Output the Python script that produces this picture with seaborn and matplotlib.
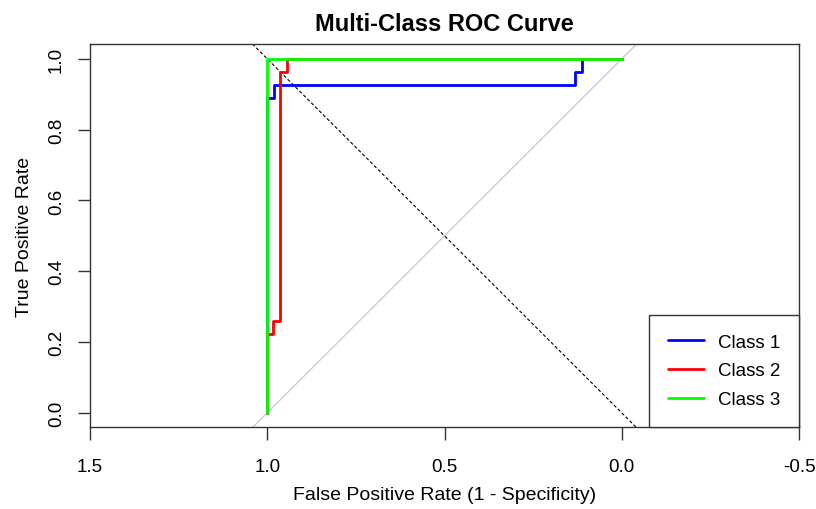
import numpy as np
import pandas as pd
import matplotlib
matplotlib.use("Agg")
import matplotlib.pyplot as plt
import seaborn as sns

# ROC points (specificity, sensitivity) per class
class1_spec = [1.0, 1.0, 0.981, 0.981, 0.133, 0.133, 0.113, 0.113, 0.0]
class1_sens = [0.0, 0.889, 0.889, 0.926, 0.926, 0.963, 0.963, 1.0, 1.0]

class2_spec = [1.0, 1.0, 0.983, 0.983, 0.963, 0.963, 0.944, 0.944, 0.0]
class2_sens = [0.0, 0.222, 0.222, 0.259, 0.259, 0.963, 0.963, 1.0, 1.0]

class3_spec = [1.0, 1.0, 0.0]
class3_sens = [0.0, 1.0, 1.0]

class_names = ["Class 1", "Class 2", "Class 3"]
class_colors = ["#0000FF", "#FF0000", "#00FF00"]

x_ticks = [1.5, 1.0, 0.5, 0.0, -0.5]
y_ticks = [0.0, 0.2, 0.4, 0.6, 0.8, 1.0]

sns.set_style("white")
plt.rcParams["font.family"] = ["Liberation Sans", "DejaVu Sans"]
plt.rcParams["axes.unicode_minus"] = False
plt.rcParams["text.color"] = "black"
plt.rcParams["axes.labelcolor"] = "black"
plt.rcParams["xtick.color"] = "black"
plt.rcParams["ytick.color"] = "black"

frames = []
for name, spec, sens in zip(class_names,
                            [class1_spec, class2_spec, class3_spec],
                            [class1_sens, class2_sens, class3_sens]):
    frames.append(pd.DataFrame({"spec": spec, "sens": sens, "cls": name}))
df = pd.concat(frames, ignore_index=True)

fig = plt.figure(figsize=(8.16, 5.10), dpi=100)
ax = fig.add_axes([90 / 816, (510 - 428) / 510, (799 - 90) / 816, (428 - 45) / 510])

ax.set_xlim(1.5, -0.5)
ax.set_ylim(-0.040, 1.042)

# reference lines
ax.axline((1, 0), (0, 1), color="#C8C8C8", lw=0.9, zorder=1)
ax.axline((0, 0), (1, 1), color="black", lw=0.8, ls=(0, (3, 2)), zorder=1)

sns.lineplot(data=df, x="spec", y="sens", hue="cls",
             estimator=None, sort=False, palette=class_colors,
             hue_order=class_names, lw=2, ax=ax, legend=False, zorder=3)

ax.set_xticks(x_ticks)
ax.set_xticklabels([f"{v:.1f}" for v in x_ticks], fontsize=13.5)
ax.set_yticks(y_ticks)
ax.set_yticklabels([f"{v:.1f}" for v in y_ticks], fontsize=13.5,
                   rotation=90, va="center")
ax.tick_params(axis="both", direction="out", length=9, width=1,
               color="#333333", left=True, bottom=True)
ax.tick_params(axis="x", pad=13)
ax.tick_params(axis="y", pad=9)

for s in ax.spines.values():
    s.set_color("#333333")
    s.set_linewidth(1)

ax.set_title("Multi-Class ROC Curve", fontsize=17, fontweight="bold", pad=10)
ax.set_xlabel("False Positive Rate (1 - Specificity)", fontsize=14, labelpad=8)
ax.set_ylabel("True Positive Rate", fontsize=14, labelpad=11)

handles = [plt.Line2D([], [], color=c, lw=2) for c in class_colors]
leg = ax.legend(handles, class_names, loc="lower right", fontsize=13.5,
                frameon=True, fancybox=False, framealpha=1,
                edgecolor="#333333", borderaxespad=0, handlelength=1.9,
                handletextpad=0.75, labelspacing=0.62, borderpad=1.0)
leg.get_frame().set_linewidth(1)

fig.savefig("out.png", dpi=100)
